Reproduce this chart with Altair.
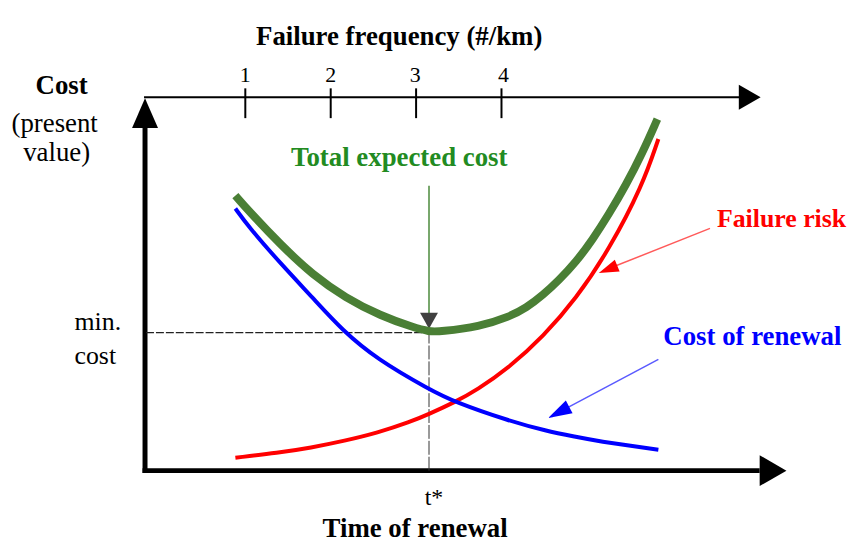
import altair as alt
import pandas as pd

# ---- values (t = time of renewal, c = cost, diagram units) ----
total_t = [90, 103, 136, 168, 201, 236, 270, 285, 296, 336, 366, 383, 400, 416, 433, 450, 466, 483, 500, 515]
total_c = [277, 262, 227, 197, 174, 156, 144, 140, 140, 145, 155, 164, 177, 192, 210, 233, 258, 287, 320, 354]

risk_t = [90, 133, 166, 200, 233, 266, 285, 311, 333, 366, 400, 433, 466, 500, 516]
risk_c = [13, 18, 23, 30, 38, 49, 57, 69, 81, 104, 135, 173, 222, 287, 334]

renew_t = [90, 103, 136, 168, 198, 233, 285, 311, 366, 403, 433, 453, 516]
renew_c = [264, 246, 208, 174, 141, 112, 82, 69, 50, 40, 34, 30, 21]

freq_labels = ["1", "2", "3", "4"]
freq_tick_t = [100, 186, 272, 358]

t_star = 285
min_cost = 139

XS = alt.Scale(domain=[-139, 710], nice=False, zero=False)
YS = alt.Scale(domain=[-75, 464], nice=False, zero=False)


def X(f="t"):
    return alt.X(f"{f}:Q", scale=XS, axis=None)


def Y(f="c"):
    return alt.Y(f"{f}:Q", scale=YS, axis=None)


def line(ts, cs, color, width):
    df = pd.DataFrame({"t": ts, "c": cs})
    return alt.Chart(df).mark_line(color=color, strokeWidth=width, interpolate="basis",
                                   strokeCap="butt").encode(x=X(), y=Y(), order="t:Q")


def rule(t1, t2, c1, c2, color="black", width=1.0, dash=None):
    df = pd.DataFrame({"t": [t1], "t2": [t2], "c": [c1], "c2": [c2]})
    props = dict(color=color, strokeWidth=width)
    if dash:
        props["strokeDash"] = dash
    return alt.Chart(df).mark_rule(**props).encode(
        x=X("t"), x2="t2:Q", y=Y("c"), y2="c2:Q")


def head(t, c, path, size, color="black", angle=0):
    df = pd.DataFrame({"t": [t], "c": [c]})
    return alt.Chart(df).mark_point(shape=path, size=size, filled=True, color=color,
                                    opacity=1, strokeWidth=0, angle=angle).encode(x=X(), y=Y())


def text(t, c, s, size=27, bold=True, color="black", align="center"):
    df = pd.DataFrame({"t": [t], "c": [c], "s": [s]})
    return alt.Chart(df).mark_text(font="Liberation Serif", fontSize=size,
                                   fontWeight="bold" if bold else "normal",
                                   color=color, align=align, baseline="alphabetic").encode(
        x=X(), y=Y(), text="s:N")


layers = []

# axes
layers.append(rule(-1, -1, -2.5, 347, width=5))               # vertical cost axis
layers.append(head(-1, 360, "M0,-1L0.87,1L-0.87,1Z", 900))     # up arrow
layers.append(rule(-3.5, 618, 0, 0, width=5))                 # time axis
layers.append(head(631.5, 0, "M-0.87,-1L0.87,0L-0.87,1Z", 961))
layers.append(rule(-2, 598, 376, 376, width=2))               # failure frequency axis
layers.append(head(608, 376, "M-0.88,-1L0.88,0L-0.88,1Z", 625))

ticks_df = pd.DataFrame({"t": freq_tick_t, "lab": freq_labels})
layers.append(alt.Chart(ticks_df).mark_rule(color="black", strokeWidth=2).encode(
    x=X(), y=alt.Y("c1:Q", scale=YS, axis=None), y2="c2:Q"
).transform_calculate(c1="385", c2="355"))
lab_df = pd.DataFrame({"t": [100, 186, 271, 360], "lab": freq_labels})
layers.append(alt.Chart(lab_df).mark_text(font="Liberation Serif", fontSize=22, color="black",
                                          baseline="middle").encode(
    x=X(), y=alt.Y("c:Q", scale=YS, axis=None), text="lab:N"
).transform_calculate(c="398"))

# guide lines
layers.append(rule(0, t_star, min_cost, min_cost, color="#222222", width=1.2, dash=[8, 2]))
layers.append(rule(t_star, t_star, 0, min_cost, color="#333333", width=1.0, dash=[14, 2]))
layers.append(rule(t_star, t_star, 158, 287, color="#4a8a3a", width=1.5))
layers.append(head(t_star, 151, "M-1,-0.9L1,-0.9L0,0.9Z", 324, color="#404040"))

# curves
layers.append(line(total_t, total_c, "#4a7f35", 8))
layers.append(line(risk_t, risk_c, "#ff0000", 4))
layers.append(line(renew_t, renew_c, "#0000ff", 4))

# pointer arrows
layers.append(rule(568, 465, 244, 203, color="#ff5a5a", width=1.5))
layers.append(head(465.3, 202.7, "M-1,-0.65L1,0L-1,0.65Z", 400, color="#ff0000", angle=158))
layers.append(rule(516, 416, 112, 59, color="#5a5aff", width=1.5))
layers.append(head(415.6, 58.6, "M-1,-0.6L1,0L-1,0.6Z", 576, color="#0000ff", angle=152))

# texts
layers.append(text(255, 429, "Failure frequency (#/km)"))
layers.append(text(-85, 379, "Cost"))
layers.append(text(-92, 341, "(present", bold=False))
layers.append(text(-90, 312, "value)", bold=False))
layers.append(text(-72, 142, "min.", size=26, bold=False, align="left"))
layers.append(text(-72, 107, "cost", size=26, bold=False, align="left"))
layers.append(text(255, 307, "Total expected cost", color="#228b22"))
layers.append(text(575, 245, "Failure risk", size=26, color="#ff0000", align="left"))
layers.append(text(521, 127, "Cost of renewal", color="#0000ff", align="left"))
layers.append(text(290, -35, "t*", size=24, bold=False))
layers.append(text(271, -67, "Time of renewal"))

chart = alt.layer(*layers).properties(
    width=849, height=539, padding=0,
    autosize=alt.AutoSizeParams(type="none"), background="white"
).configure_view(stroke=None)

chart.save("out.html", embed_options={"renderer": "svg", "actions": False})
